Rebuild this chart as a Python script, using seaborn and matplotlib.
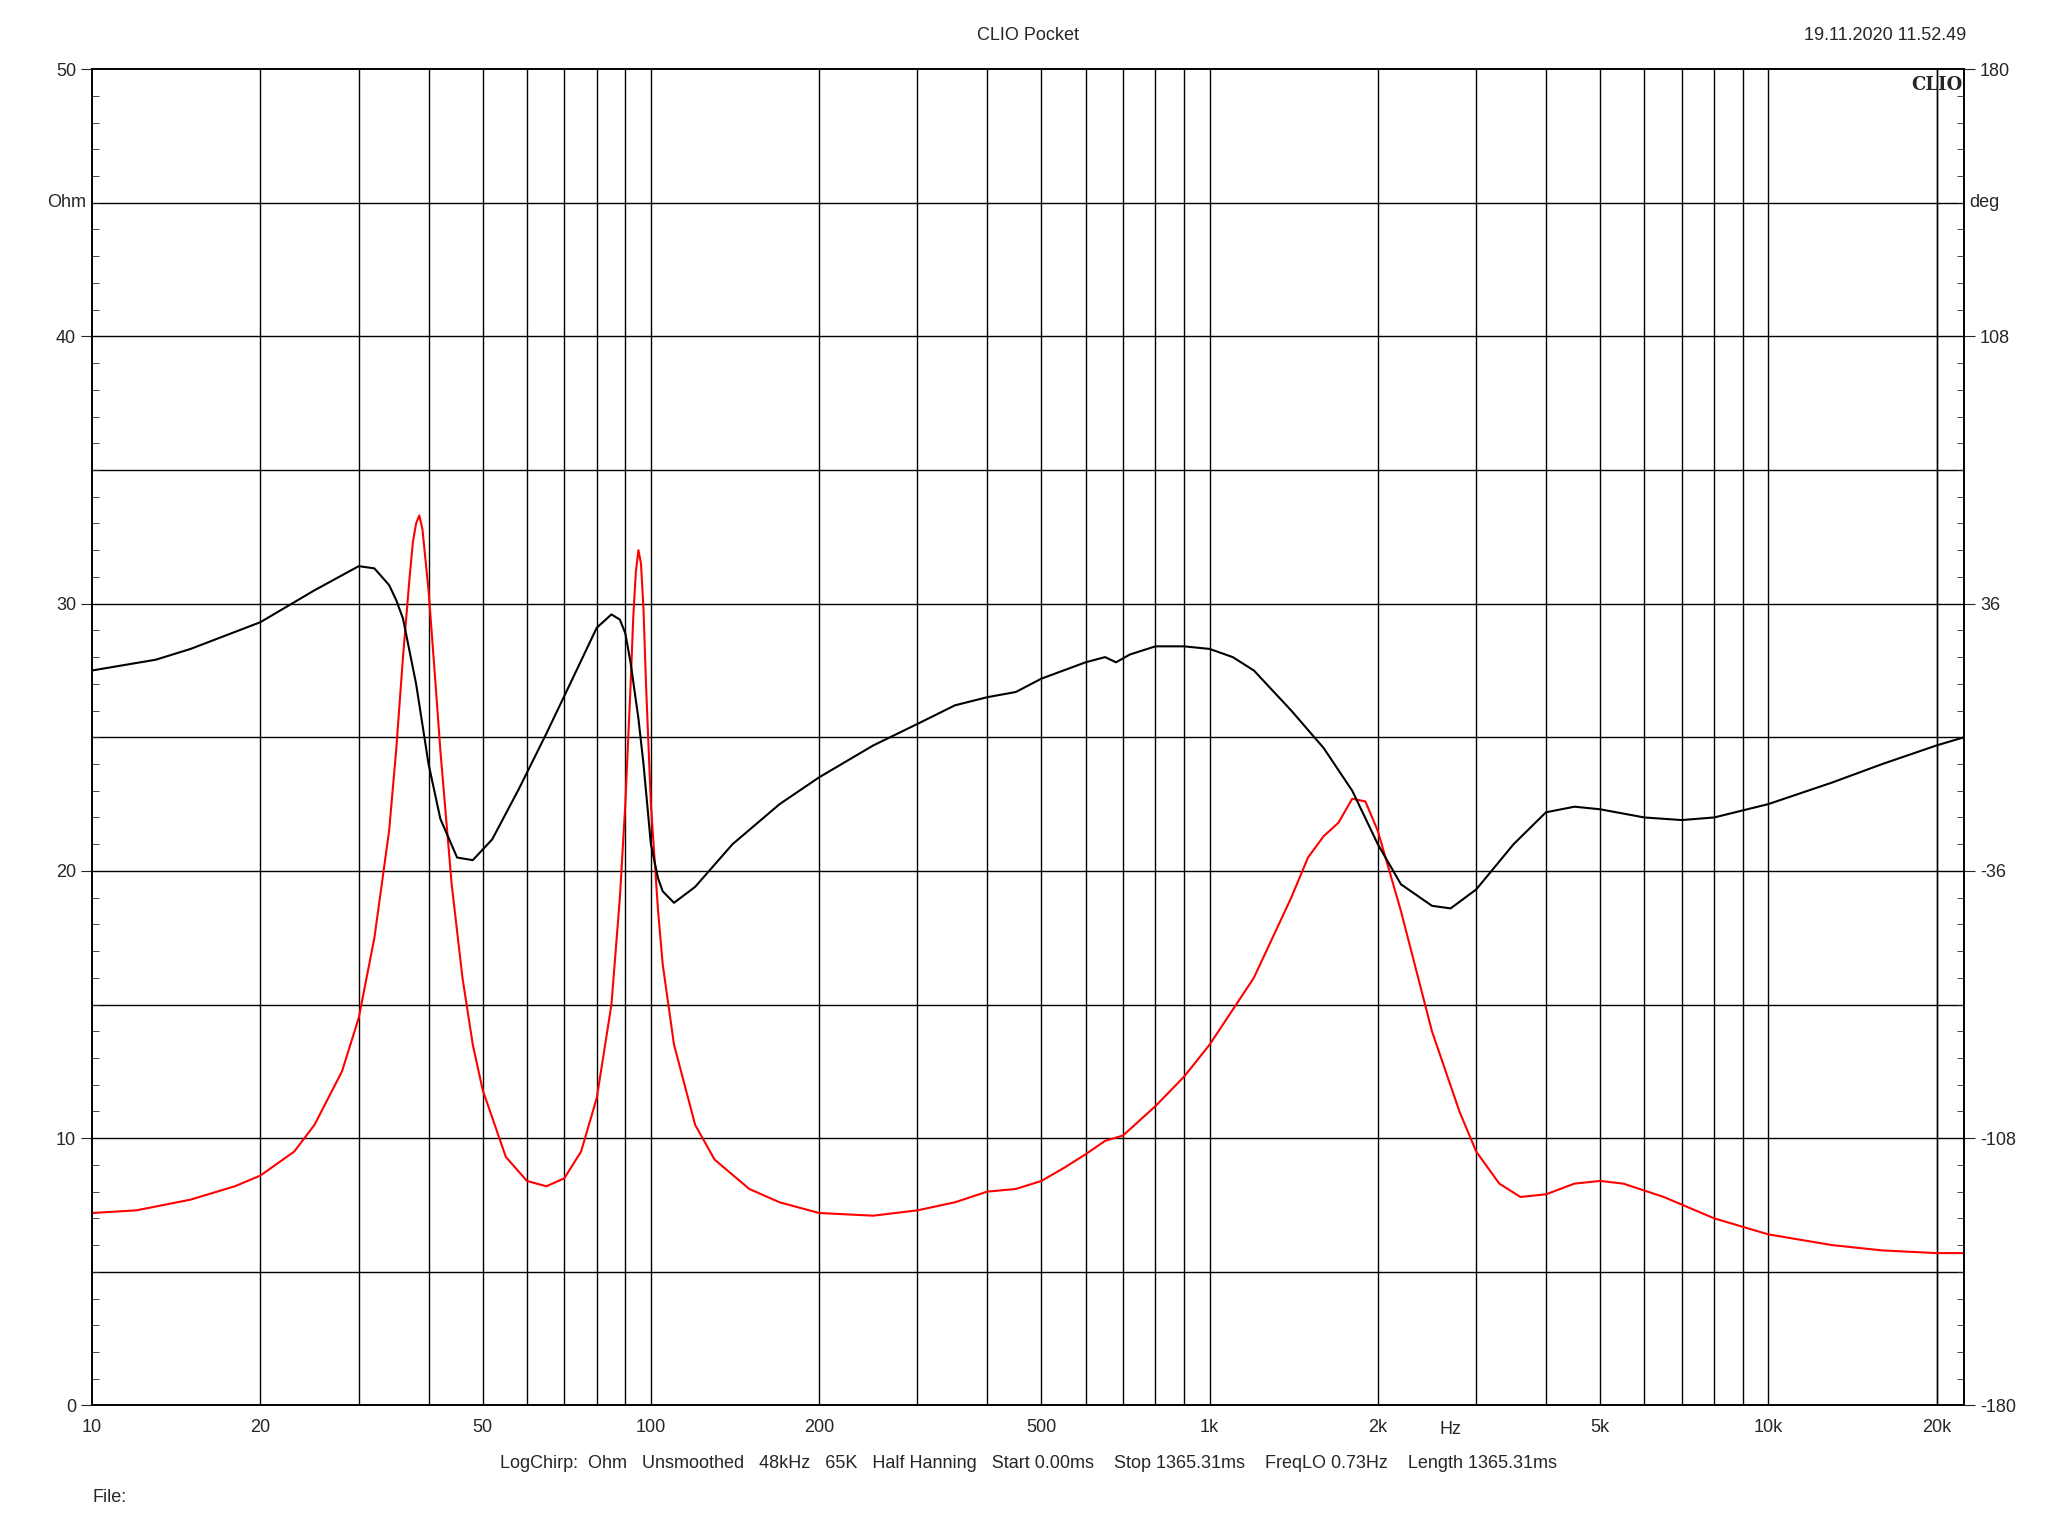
import matplotlib
matplotlib.use("Agg")
import matplotlib.pyplot as plt
import seaborn as sns
import pandas as pd
from matplotlib.ticker import FixedLocator, NullFormatter, MultipleLocator

imp_freq = [10,12,15,18,20,23,25,28,30,32,34,35,36,37,37.5,38,38.5,39,40,41,42,44,46,48,50,55,60,65,70,75,80,85,88,90,92,93,94,95,96,97,98,100,103,105,110,120,130,150,170,200,250,300,350,400,450,500,550,600,650,700,800,900,1000,1200,1400,1500,1600,1700,1800,1900,2000,2200,2500,2800,3000,3300,3600,4000,4500,5000,5500,6500,8000,10000,13000,16000,20000,22400]
imp_ohm = [7.2,7.3,7.7,8.2,8.6,9.5,10.5,12.5,14.5,17.5,21.5,24.5,28,31,32.3,33,33.3,32.8,30.5,27.5,24.5,19.5,16,13.5,11.8,9.3,8.4,8.2,8.5,9.5,11.5,15,19,22.5,27,29.5,31.2,32,31.5,29.8,27,22.5,18.5,16.5,13.5,10.5,9.2,8.1,7.6,7.2,7.1,7.3,7.6,8.0,8.1,8.4,8.9,9.4,9.9,10.1,11.2,12.3,13.5,16,19,20.5,21.3,21.8,22.7,22.6,21.5,18.5,14,11,9.5,8.3,7.8,7.9,8.3,8.4,8.3,7.8,7.0,6.4,6.0,5.8,5.7,5.7]

ph_freq = [10,13,15,20,25,30,32,34,35,36,38,40,42,45,48,52,58,65,72,80,85,88,90,92,95,97,100,103,105,110,120,140,170,200,250,300,350,400,450,500,600,650,680,720,800,900,1000,1100,1200,1400,1600,1800,2000,2200,2500,2700,3000,3500,4000,4500,5000,6000,7000,8000,10000,13000,16000,20000,22400]
ph_deg = [18,20.9,23.8,31,39.6,46.1,45.5,41,37,32,14.4,-7.2,-22,-32.4,-33.1,-27.5,-14,1,15,29.5,33.1,31.7,28,20,5,-7.2,-28.8,-38,-41.5,-44.6,-40.3,-28.8,-18,-10.8,-2.2,3.6,8.6,10.8,12.2,15.8,20.2,21.6,20.2,22.3,24.5,24.5,23.8,21.6,18,7.2,-2.9,-14.4,-28.8,-39.6,-45.4,-46.1,-41,-28.8,-20.2,-18.7,-19.4,-21.6,-22.3,-21.6,-18,-12.2,-7.2,-2.2,0]

x_ticks = [10,20,50,100,200,500,1000,2000,5000,10000,20000]
x_labels = ["10","20","50","100","200","500","1k","2k","5k","10k","20k"]
left_ticks = [0,10,20,30,40,50]
right_ticks = [-180,-108,-36,36,108,180]

sns.set_style("white")
plt.rcParams['font.family'] = ['Liberation Sans', 'DejaVu Sans']
fig = plt.figure(figsize=(20.48,15.36), dpi=100)
ax = fig.add_axes([0.045, 0.085, 0.914, 0.870])
ax.set_xscale('log')
ax.set_xlim(10, 22400)
ax.set_ylim(0, 50)
grid_f = [f*10**d for d in range(1,5) for f in range(1,10)] + [20000]
for f in grid_f:
    if 10 < f < 22400:
        ax.axvline(f, color='black', lw=1.0, zorder=0)
for y in range(5, 50, 5):
    ax.axhline(y, color='black', lw=1.0, zorder=0)

df_i = pd.DataFrame({'f': imp_freq, 'v': imp_ohm})
sns.lineplot(data=df_i, x='f', y='v', ax=ax, color='#ff0000', lw=1.5, estimator=None, sort=False, zorder=3)

ax2 = ax.twinx()
ax2.set_ylim(-180, 180)
df_p = pd.DataFrame({'f': ph_freq, 'v': ph_deg})
sns.lineplot(data=df_p, x='f', y='v', ax=ax2, color='black', lw=1.5, estimator=None, sort=False, zorder=3)
ax2.set_xscale('log'); ax2.set_xlim(10, 22400)

fs = 13
ax.xaxis.set_major_locator(FixedLocator(x_ticks))
ax.set_xticklabels(x_labels, fontsize=fs)
ax.xaxis.set_minor_formatter(NullFormatter())
ax.tick_params(axis='x', which='both', length=0, pad=10)
ax.set_yticks(left_ticks)
ax.set_yticklabels([str(t) for t in left_ticks], fontsize=fs)
ax.yaxis.set_minor_locator(MultipleLocator(1))
ax.tick_params(axis='y', which='major', length=8, direction='out')
ax.tick_params(axis='y', which='minor', length=5, direction='in')
ax2.set_yticks(right_ticks)
ax2.set_yticklabels([str(t) for t in right_ticks], fontsize=fs)
ax2.yaxis.set_minor_locator(MultipleLocator(7.2))
ax2.tick_params(axis='y', which='major', length=8, direction='out')
ax2.tick_params(axis='y', which='minor', length=5, direction='in')
ax.set_xlabel(''); ax.set_ylabel(''); ax2.set_xlabel(''); ax2.set_ylabel('')
for a in (ax, ax2):
    for s in a.spines.values():
        s.set_color('black'); s.set_linewidth(1.2)

ax.text(-0.003, 45, 'Ohm', transform=ax.get_yaxis_transform(), ha='right', va='center', fontsize=fs)
ax2.text(1.003, 144, 'deg', transform=ax2.get_yaxis_transform(), ha='left', va='center', fontsize=fs)
ax.text(0.999, 0.995, 'CLIO', transform=ax.transAxes, ha='right', va='top', fontsize=13, fontweight='bold', family='DejaVu Serif')
fig.text(0.502, 0.977, 'CLIO Pocket', ha='center', va='center', fontsize=fs)
fig.text(0.960, 0.977, '19.11.2020 11.52.49', ha='right', va='center', fontsize=fs)
ax.text(2700, -0.0115, 'Hz', transform=ax.get_xaxis_transform(), ha='center', va='top', fontsize=fs)
fig.text(0.502, 0.047, 'LogChirp:  Ohm   Unsmoothed   48kHz   65K   Half Hanning   Start 0.00ms    Stop 1365.31ms    FreqLO 0.73Hz    Length 1365.31ms', ha='center', va='center', fontsize=fs)
fig.text(0.045, 0.025, 'File:', ha='left', va='center', fontsize=fs)
fig.savefig('out.png', dpi=100)
